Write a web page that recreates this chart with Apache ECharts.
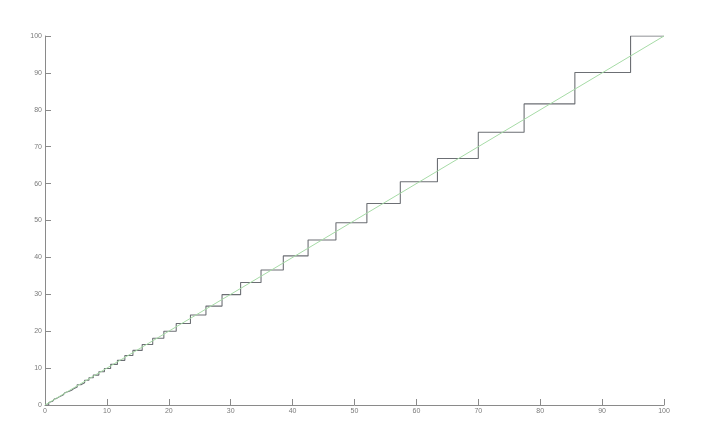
<!DOCTYPE html>
<html>
<head>
<meta charset="utf-8">
<script src="https://cdn.jsdelivr.net/npm/echarts@6/dist/echarts.min.js"></script>
<style>html,body{margin:0;padding:0;background:#fff}#c{width:705px;height:436px}</style>
</head>
<body>
<div id="c"></div>
<script>
// Staircase: x where each level starts, and the level value (ascending)
var stepX = [0, 0.6, 0.9, 1.2, 1.5, 1.7, 1.9, 2.1, 2.3, 2.6, 2.9, 3.2, 3.5, 3.9, 4.3, 4.7, 5.2, 5.8, 6.4, 7.1, 7.8, 8.7, 9.6, 10.6, 11.7, 12.9, 14.2, 15.7, 17.4, 19.2, 21.2, 23.5, 26.0, 28.6, 31.6, 34.9, 38.5, 42.5, 47.0, 52.0, 57.4, 63.4, 70.0, 77.4, 85.6, 94.6, 100];
var stepY = [0, 0.7, 1.0, 1.3, 1.6, 1.8, 2.0, 2.2, 2.4, 2.7, 3.0, 3.3, 3.7, 4.0, 4.5, 4.9, 5.5, 6.0, 6.7, 7.4, 8.1, 9.0, 9.9, 11.0, 12.1, 13.4, 14.8, 16.4, 18.1, 20.0, 22.1, 24.4, 26.8, 29.9, 33.2, 36.6, 40.4, 44.7, 49.4, 54.6, 60.5, 66.8, 73.9, 81.6, 90.1, 100, 100];
// Reference diagonal
var diagX = [0, 100];
var diagY = [0, 100];
var xTicks = [0, 10, 20, 30, 40, 50, 60, 70, 80, 90, 100];
var yTicks = [0, 10, 20, 30, 40, 50, 60, 70, 80, 90, 100];

var stairData = stepX.map(function (x, i) { return [x, stepY[i]]; });
var diagData = diagX.map(function (x, i) { return [x, diagY[i]]; });

var axisCommon = {
  type: 'value', min: 0, max: 100, interval: 10,
  axisLine: { show: true, lineStyle: { color: '#8a8a8a', width: 1 } },
  axisTick: { show: true, inside: true, length: 6, lineStyle: { color: '#8a8a8a', width: 1 } },
  axisLabel: { color: '#7a7a7a', fontSize: 7, fontFamily: 'Liberation Sans Narrow, Liberation Sans', margin: 3 },
  splitLine: { show: false }
};

var chart = echarts.init(document.getElementById('c'), null, { renderer: 'canvas' });
chart.setOption({
  animation: false,
  backgroundColor: '#fff',
  grid: { left: 45, right: 41, top: 36, bottom: 31, containLabel: false },
  xAxis: Object.assign({}, axisCommon),
  yAxis: Object.assign({}, axisCommon),
  series: [
    {
      type: 'line', data: diagData, showSymbol: false, symbol: 'none',
      lineStyle: { color: '#a6dba6', width: 1 }, z: 3
    },
    {
      type: 'line', data: stairData, step: 'end', showSymbol: false, symbol: 'none',
      lineStyle: { color: '#6c6f74', width: 1.1 }, z: 2
    }
  ]
});
</script>
</body>
</html>
